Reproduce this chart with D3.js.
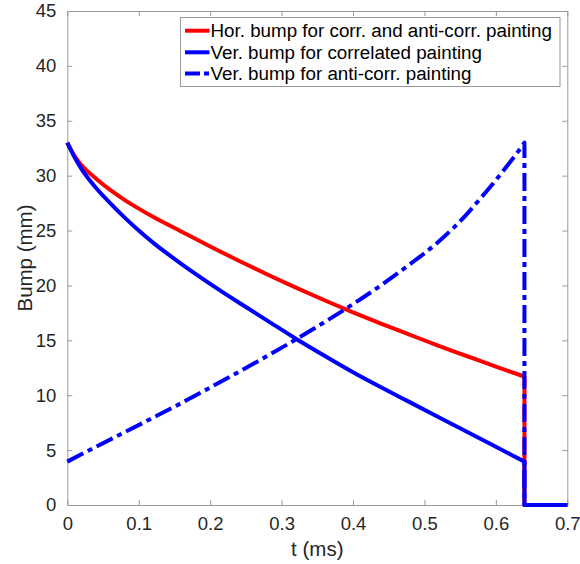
<!DOCTYPE html>
<html>
<head>
<meta charset="utf-8">
<script src="https://cdn.jsdelivr.net/npm/d3@7"></script>
<style>
  html, body { margin: 0; padding: 0; background: #fff; }
  svg { display: block; font-family: "Liberation Sans", Arial, Helvetica, sans-serif; }
</style>
</head>
<body>
<svg id="chart" width="580" height="564"></svg>
<script>
// Time samples (ms) and bump amplitudes (mm)
const tHor = [0, 0.01, 0.02, 0.04, 0.06, 0.08, 0.1, 0.12, 0.16, 0.2, 0.24, 0.28, 0.32, 0.36, 0.4, 0.44, 0.48, 0.52, 0.56, 0.6, 0.64];
const horBump = [33.0, 31.8, 30.95, 29.75, 28.7, 27.8, 27.0, 26.25, 24.9, 23.55, 22.25, 21.0, 19.8, 18.65, 17.55, 16.5, 15.5, 14.5, 13.55, 12.6, 11.7];

const tVerCorr = [0, 0.01, 0.02, 0.04, 0.06, 0.08, 0.1, 0.12, 0.16, 0.2, 0.24, 0.28, 0.32, 0.36, 0.4, 0.44, 0.48, 0.52, 0.56, 0.6, 0.64];
const verCorr = [33.0, 31.7, 30.6, 28.9, 27.5, 26.2, 25.0, 23.9, 21.95, 20.15, 18.45, 16.8, 15.15, 13.6, 12.1, 10.7, 9.35, 8.0, 6.65, 5.3, 3.95];

const tVerAnti = [0, 0.04, 0.08, 0.12, 0.16, 0.2, 0.24, 0.28, 0.32, 0.36, 0.4, 0.44, 0.48, 0.52, 0.54, 0.56, 0.58, 0.6, 0.62, 0.63, 0.64];
const verAnti = [3.95, 5.3, 6.62, 7.95, 9.3, 10.7, 12.12, 13.58, 15.08, 16.65, 18.3, 20.05, 21.95, 24.0, 25.2, 26.55, 28.05, 29.6, 31.25, 32.1, 33.0];

// After the kick ends every bump drops to zero
const tOff = [0.64, 0.64, 0.7];

const xTicks = [0, 0.1, 0.2, 0.3, 0.4, 0.5, 0.6, 0.7];
const yTicks = [0, 5, 10, 15, 20, 25, 30, 35, 40, 45];

const legendLabels = [
  "Hor. bump for corr. and anti-corr. painting",
  "Ver. bump for correlated painting",
  "Ver. bump for anti-corr. painting"
];

const svg = d3.select("#chart");
const plotLeft = 67.3, plotRight = 567.3, plotTop = 11, plotBottom = 505;

const x = d3.scaleLinear().domain([0, 0.7]).range([plotLeft, plotRight]);
const y = d3.scaleLinear().domain([0, 45]).range([plotBottom, plotTop]);

const axisColor = "#9a9a9a";
const textColor = "#262626";
const tickFont = "18.5px";

// Axes (box with inward ticks on all four sides)
const axes = svg.append("g");
function styleAxis(g) {
  g.select(".domain").attr("stroke", axisColor);
  g.selectAll(".tick line").attr("stroke", axisColor);
  g.selectAll(".tick text").attr("fill", textColor).style("font-size", tickFont)
    .style("font-family", "'Liberation Sans', Arial, Helvetica, sans-serif");
}
axes.append("g").attr("transform", `translate(0,${plotBottom})`)
  .call(d3.axisBottom(x).tickValues(xTicks).tickFormat(d3.format("")).tickSizeInner(-5).tickSizeOuter(0).tickPadding(12))
  .call(styleAxis);
axes.append("g").attr("transform", `translate(0,${plotTop})`)
  .call(d3.axisTop(x).tickValues(xTicks).tickFormat("").tickSizeInner(-5).tickSizeOuter(0))
  .call(styleAxis);
axes.append("g").attr("transform", `translate(${plotLeft},0)`)
  .call(d3.axisLeft(y).tickValues(yTicks).tickSizeInner(-5).tickSizeOuter(0).tickPadding(11))
  .call(styleAxis);
axes.append("g").attr("transform", `translate(${plotRight},0)`)
  .call(d3.axisRight(y).tickValues(yTicks).tickFormat("").tickSizeInner(-5).tickSizeOuter(0))
  .call(styleAxis);

// Series paths: smooth curve followed by the step down to zero
const curve = d3.line().x(d => x(d[0])).y(d => y(d[1])).curve(d3.curveMonotoneX);
function seriesPath(ts, vs) {
  const pts = ts.map((t, i) => [t, vs[i]]);
  const last = vs[vs.length - 1];
  const tailVals = [last, 0, 0];
  const tail = tOff.map((t, i) => `L${x(t)},${y(tailVals[i])}`).join("");
  return curve(pts) + tail;
}

const series = [
  { t: tHor, v: horBump, color: "#ff0000", dash: null },
  { t: tVerCorr, v: verCorr, color: "#0000ff", dash: null },
  { t: tVerAnti, v: verAnti, color: "#0000ff", dash: "18,5,5,5" }
];

const plot = svg.append("g");
series.forEach(s => {
  plot.append("path")
    .attr("d", seriesPath(s.t, s.v))
    .attr("fill", "none")
    .attr("stroke", s.color)
    .attr("stroke-width", 4)
    .attr("stroke-dasharray", s.dash)
    .attr("stroke-linejoin", "round");
});

// Axis labels
svg.append("text")
  .attr("x", (plotLeft + plotRight) / 2).attr("y", 556)
  .attr("text-anchor", "middle").attr("fill", textColor)
  .style("font-size", "20.5px")
  .text("t (ms)");
svg.append("text")
  .attr("transform", `translate(32,${(plotTop + plotBottom) / 2}) rotate(-90)`)
  .attr("text-anchor", "middle").attr("fill", textColor)
  .style("font-size", "20.5px")
  .text("Bump (mm)");

// Legend
const legend = svg.append("g");
legend.append("rect")
  .attr("x", 180.5).attr("y", 17.5).attr("width", 379.5).attr("height", 69)
  .attr("fill", "#fff").attr("stroke", axisColor).attr("stroke-width", 1);
const rowY = [30.7, 52.3, 73.5];
legendLabels.forEach((label, i) => {
  const s = series[i];
  legend.append("line")
    .attr("x1", 185).attr("x2", 209.5)
    .attr("y1", rowY[i]).attr("y2", rowY[i])
    .attr("stroke", s.color).attr("stroke-width", 4)
    .attr("stroke-dasharray", s.dash ? "15,4,5,4" : null);
  legend.append("text")
    .attr("x", 210.5).attr("y", rowY[i] + 6.7)
    .attr("fill", "#000")
    .style("font-size", "18.8px")
    .text(label);
});
</script>
</body>
</html>
